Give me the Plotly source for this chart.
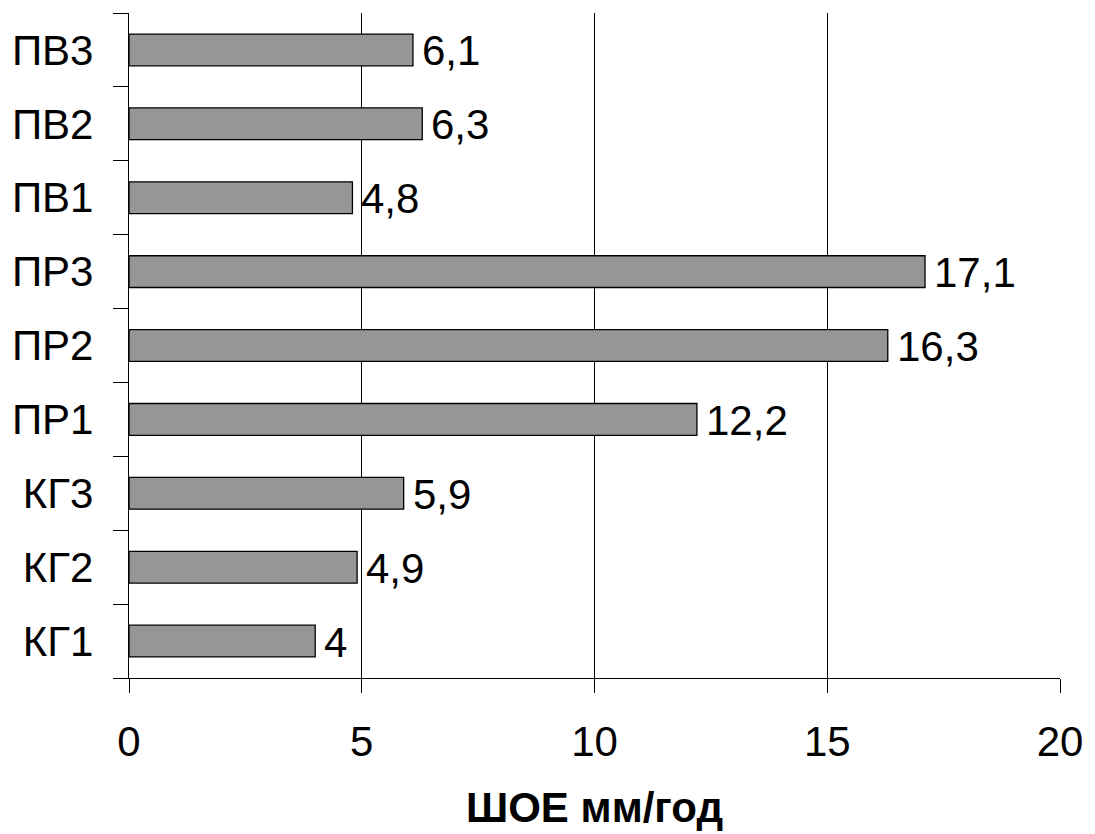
import plotly.graph_objects as go

# Categories bottom-to-top and their ШОЕ values (mm/year)
categories = ["КГ1", "КГ2", "КГ3", "ПР1", "ПР2", "ПР3", "ПВ1", "ПВ2", "ПВ3"]
values = [4.0, 4.9, 5.9, 12.2, 16.3, 17.1, 4.8, 6.3, 6.1]
x_ticks = [0, 5, 10, 15, 20]

FONT = "Liberation Sans, Arial, sans-serif"
SIZE = 42

labels = [f"{v:g}".replace(".", ",") for v in values]

fig = go.Figure(
    go.Bar(
        x=values,
        y=categories,
        orientation="h",
        marker=dict(color="#969696", line=dict(color="#000000", width=1.3)),
        width=0.43,
    )
)

# value labels to the right of each bar
for c, v, t in zip(categories, values, labels):
    fig.add_annotation(
        x=v, y=c, xref="x", yref="y", text=t, showarrow=False,
        xanchor="left", yanchor="middle", xshift=7, yshift=-1,
        font=dict(family=FONT, size=SIZE, color="#000000"),
    )

# axis title below the plot
fig.add_annotation(
    x=0.5, y=-0.195, xref="paper", yref="paper", text="<b>ШОЕ мм/год</b>",
    showarrow=False, xanchor="center", yanchor="middle",
    font=dict(family=FONT, size=SIZE, color="#000000"),
)

fig.update_layout(
    width=1095, height=834,
    margin=dict(l=128, r=33, t=13, b=156),
    paper_bgcolor="white", plot_bgcolor="white",
    showlegend=False,
    font=dict(family=FONT, size=SIZE, color="#000000"),
)

fig.update_xaxes(
    range=[0, 20], tickvals=x_ticks, ticktext=[str(t) for t in x_ticks],
    showgrid=True, gridcolor="#000000", gridwidth=1,
    zeroline=False, showline=True, linecolor="#000000", linewidth=1.3,
    ticks="outside", ticklen=14, tickcolor="#000000", tickwidth=1.3,
    ticklabelstandoff=12,
    tickfont=dict(family=FONT, size=SIZE, color="#000000"),
)
fig.update_yaxes(
    categoryorder="array", categoryarray=categories,
    showgrid=False, zeroline=False, showline=True, linecolor="#000000", linewidth=1.3,
    ticks="outside", tickson="boundaries", ticklen=15, tickcolor="#000000", tickwidth=1.3,
    ticklabelstandoff=26,
    tickfont=dict(family=FONT, size=SIZE, color="#000000"),
)

fig.write_html("out.html")
